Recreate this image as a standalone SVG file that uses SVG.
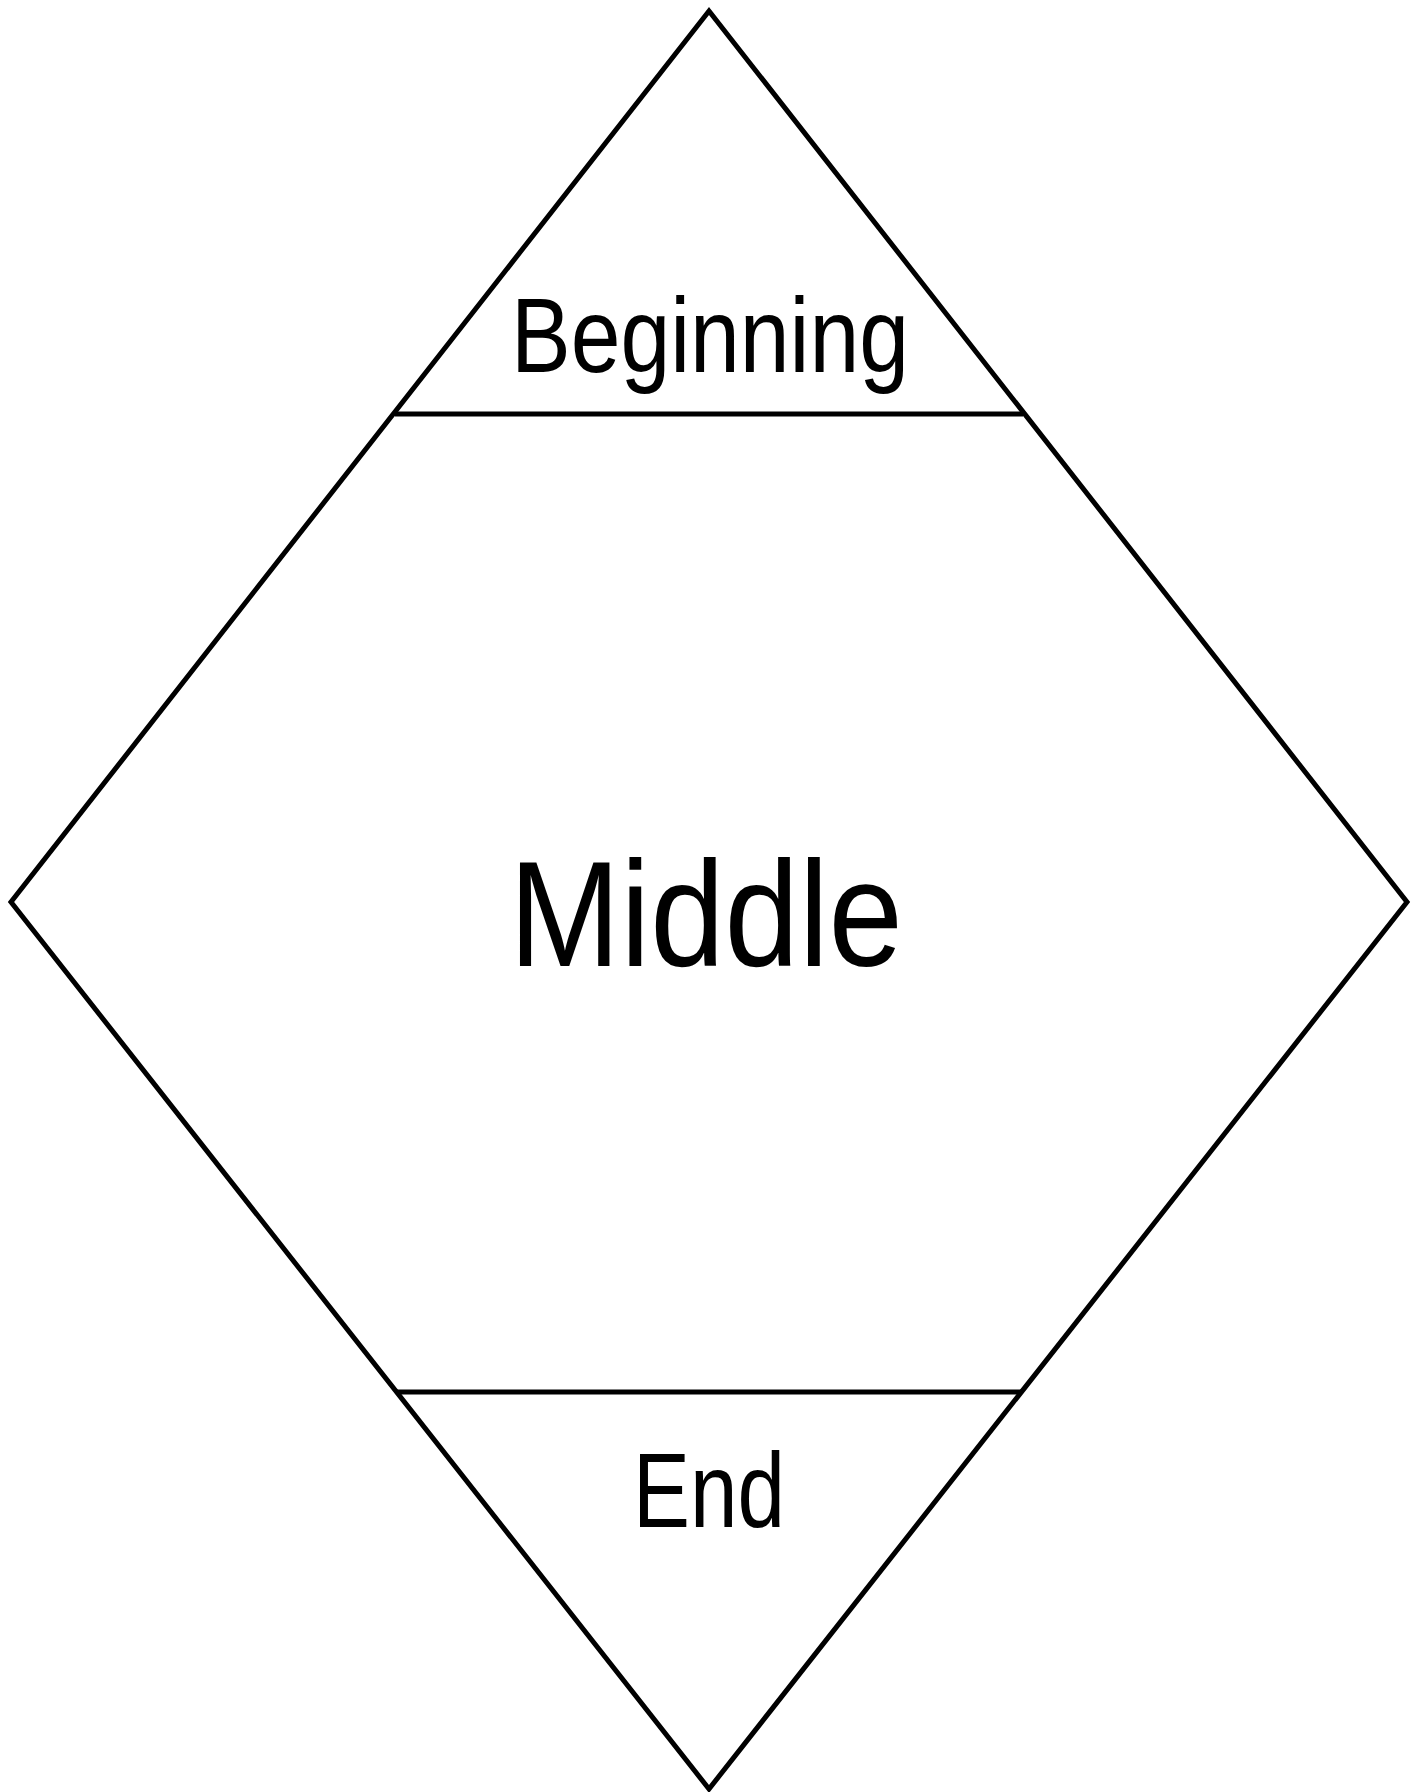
<svg xmlns="http://www.w3.org/2000/svg" width="1422" height="1792" viewBox="0 0 1422 1792">
<style>
.ln{stroke:#000;stroke-width:5;fill:none;stroke-linejoin:miter}
.t{font-family:"Liberation Sans",Arial,sans-serif;fill:#000;text-anchor:middle}
</style>
<rect width="1422" height="1792" fill="#fff"/>
<g id="diamond">
<polygon class="ln" points="709,11 1407,902 709,1789 11,902"/>
</g>
<g id="connectors">
<line class="ln" x1="395" y1="414" x2="1023" y2="414"/>
<line class="ln" x1="397" y1="1392" x2="1021" y2="1392"/>
</g>
<g id="beginning">
<text class="t" x="710" y="372" font-size="105" textLength="398" lengthAdjust="spacingAndGlyphs">Beginning</text>
</g>
<g id="middle">
<text class="t" x="706" y="966" font-size="150" textLength="394" lengthAdjust="spacingAndGlyphs">Middle</text>
</g>
<g id="end">
<text class="t" x="709" y="1527" font-size="105" textLength="152" lengthAdjust="spacingAndGlyphs">End</text>
</g>
</svg>
